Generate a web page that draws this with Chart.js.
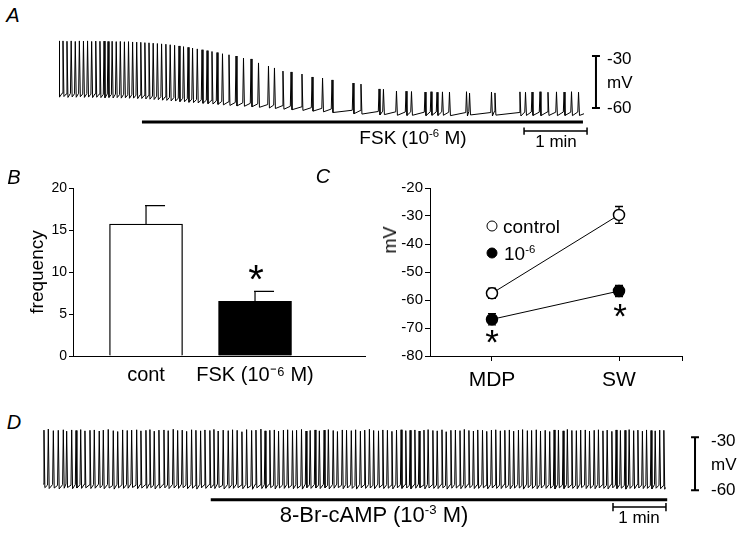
<!DOCTYPE html>
<html>
<head>
<meta charset="utf-8">
<script src="https://cdn.jsdelivr.net/npm/chart.js@4.4.1/dist/chart.umd.min.js"></script>
<style>
  body { margin: 0; width: 743px; height: 535px; background: #fff; position: relative; overflow: hidden;
         font-family: "Liberation Sans", Arial, Helvetica, sans-serif; color: #000; }
  canvas { position: absolute; }
  .t { position: absolute; white-space: nowrap; line-height: 1; }
  .c { transform: translate(-50%, -50%); }
  .l { transform: translate(0, -50%); }
  .lab { font-style: italic; font-size: 20px; }
  sup { font-size: 0.6em; vertical-align: 0.6em; line-height: 0; }
  .dot { position: absolute; width: 9px; height: 9px; border: 1.5px solid #000; border-radius: 50%;
         transform: translate(-50%, -50%); }
</style>
</head>
<body>
<canvas id="traceA" width="567" height="121" style="left:59px;top:30px"></canvas>
<canvas id="barB" width="370" height="230" style="left:0;top:170px"></canvas>
<canvas id="lineC" width="373" height="230" style="left:370px;top:170px"></canvas>
<canvas id="traceD" width="671" height="113" style="left:43px;top:416px"></canvas>

<div class="t c lab" style="left:13px;top:15px">A</div>
<div class="t c lab" style="left:14px;top:177px">B</div>
<div class="t c lab" style="left:323px;top:176px">C</div>
<div class="t c lab" style="left:14px;top:422px">D</div>

<div class="t l" style="left:607px;top:58px;font-size:17px">-30</div>
<div class="t l" style="left:607px;top:82px;font-size:17px">mV</div>
<div class="t l" style="left:607px;top:107px;font-size:17px">-60</div>
<div class="t c" style="left:413px;top:137px;font-size:19px">FSK (10<sup>-6</sup> M)</div>
<div class="t c" style="left:556px;top:141px;font-size:17px">1 min</div>

<div class="t c" style="left:256px;top:279px;font-size:40px">*</div>

<div class="dot" style="left:492px;top:226px;background:#fff"></div>
<div class="t l" style="left:503px;top:226px;font-size:19px">control</div>
<div class="dot" style="left:492px;top:253px;background:#000"></div>
<div class="t l" style="left:504px;top:253px;font-size:19px">10<sup>-6</sup></div>
<div class="t c" style="left:492px;top:341px;font-size:35px">*</div>
<div class="t c" style="left:620px;top:315px;font-size:35px">*</div>
<div class="t" style="left:390px;top:240px;font-size:18px;transform:translate(-50%,-50%) rotate(-90deg)">mV</div>

<div class="t l" style="left:711px;top:440px;font-size:17px">-30</div>
<div class="t l" style="left:711px;top:464px;font-size:17px">mV</div>
<div class="t l" style="left:711px;top:489px;font-size:17px">-60</div>
<div class="t c" style="left:374px;top:515px;font-size:22px">8-Br-cAMP (10<sup>-3</sup> M)</div>
<div class="t c" style="left:639px;top:517px;font-size:17px">1 min</div>

<script>
// ---- panel A: spikes under forskolin (time in s, potentials in mV) ----
const aSpikeT = [
  0, 3.8, 7.6, 11.6, 15.5, 19.4, 23.3, 27.2, 31.1, 35.0,
  39.0, 42.9, 46.7, 50.6, 54.5, 58.4, 62.3, 66.2, 70.1, 74.0,
  77.9, 81.8, 85.7, 89.7, 93.7, 97.7, 101.8, 105.9, 110.1, 114.3,
  118.6, 122.9, 127.2, 131.7, 136.2, 141.0, 145.7, 150.5, 155.7, 161.9,
  168.6, 175.7, 182.9, 190.0, 199.5, 205.2, 213.3, 221.0, 231.4, 241.0,
  251.0, 260.0, 280.0, 287.6, 304.8, 309.0, 321.4, 330.5, 335.7, 348.6,
  354.3, 360.0, 365.2, 371.9, 388.1, 391.0, 411.9, 415.2, 439.0, 444.3,
  450.5, 458.1, 465.7, 473.8, 481.0, 488.1, 494.8
];
const aPeak = [
  -21.3, -21.3, -21.5, -21.3, -21.6, -21.3, -21.4, -21.3, -21.6, -21.4,
  -21.5, -21.4, -21.6, -21.5, -21.7, -21.6, -21.8, -21.7, -21.9, -22.0,
  -22.1, -22.3, -22.4, -22.6, -22.8, -23.0, -23.2, -23.5, -23.8, -24.2,
  -24.6, -25.0, -25.4, -25.9, -26.4, -26.9, -27.4, -28.0, -28.7, -29.3,
  -30.0, -31.2, -31.7, -34.0, -35.8, -36.9, -38.7, -39.2, -40.4, -42.1,
  -42.7, -43.8, -45.6, -46.2, -49.0, -49.2, -50.2, -50.3, -50.5, -50.8,
  -50.6, -50.9, -50.7, -50.8, -50.6, -51.4, -50.8, -51.3, -50.7, -50.9,
  -50.8, -50.6, -50.9, -50.7, -50.8, -50.6, -50.9
];
const aTrough = [
  -53.7, -53.4, -53.9, -53.6, -53.8, -53.5, -53.9, -53.7, -54.0, -53.8,
  -54.0, -54.1, -53.9, -54.2, -54.0, -54.3, -54.1, -54.4, -54.3, -54.6,
  -54.5, -54.8, -54.9, -55.1, -55.2, -55.5, -55.6, -55.9, -56.0, -56.3,
  -56.4, -56.7, -56.9, -57.1, -57.3, -57.5, -57.7, -57.9, -58.2, -58.5,
  -58.8, -59.0, -59.3, -59.6, -60.0, -60.3, -60.7, -61.0, -61.4, -61.8,
  -62.2, -62.6, -63.3, -63.5, -64.0, -63.8, -64.2, -64.3, -64.2, -64.4,
  -64.2, -64.3, -64.2, -64.4, -64.6, -64.0, -64.6, -64.1, -64.6, -64.3,
  -64.3, -64.4, -64.3, -64.4, -64.3, -64.4, -64.3
];
const aRecordEnd = 500;
const aDrugSpan = [79, 499];

// ---- panel B: firing frequency ----
const bGroups = ['cont', 'FSK (10\u207B\u2076 M)'];
const bMeans = [15.7, 6.5];
const bSem = [2.2, 1.2];

// ---- panel C: MDP and SW potentials ----
const cGroups = ['MDP', 'SW'];
const cControl = [-57.6, -29.6];
const cControlSem = [1.8, 3.0];
const cFsk = [-66.9, -56.8];
const cFskSem = [2.0, 2.0];

// ---- panel D: spikes under 8-Br-cAMP ----
const dSpikeT = [
  1.1, 6.0, 11.7, 17.3, 23.0, 26.8, 32.5, 37.4, 42.7, 47.5,
  53.2, 58.1, 63.7, 68.3, 73.9, 79.6, 84.6, 90.2, 95.4, 100.4,
  106.1, 110.9, 116.6, 121.1, 126.0, 131.3, 137.0, 141.8, 147.5, 152.5,
  157.7, 162.7, 168.3, 173.2, 178.5, 183.4, 189.0, 193.6, 198.4, 204.1,
  209.8, 214.7, 219.9, 225.3, 230.6, 236.3, 241.2, 246.8, 251.5, 256.9,
  262.0, 266.8, 272.3, 277.1, 282.6, 287.2, 292.8, 297.9, 302.6, 308.1,
  313.0, 318.4, 323.2, 328.7, 333.5, 339.0, 343.8, 349.2, 354.1, 359.5,
  364.4, 369.7, 374.5, 380.0, 384.9, 390.1, 395.2, 400.4, 405.6, 410.9,
  415.8, 421.2, 426.0, 431.5, 436.2, 441.6, 446.5, 451.9, 456.7, 462.0,
  467.1, 472.3, 477.2, 482.4, 487.5, 492.4, 497.8, 502.6, 507.9, 512.8,
  518.0, 523.1, 528.2, 533.1, 538.5, 543.2, 548.6, 553.4, 558.7, 563.5,
  568.8, 573.9, 578.9, 583.8, 589.1, 593.9, 599.0, 604.1, 609.0, 614.2,
  619.0, 624.3, 629.1, 634.2, 639.0, 644.3, 649.1, 654.0, 659.2, 663.9,
  669.0, 673.8, 678.9, 683.6, 688.7, 693.4, 698.5, 703.2
];
const dPeak = [
  -26.0, -25.4, -26.3, -26.1, -25.8, -26.6, -25.9, -26.2, -25.7, -26.4,
  -26.1, -25.9, -26.5, -26.0, -25.6, -26.3, -26.8, -25.9, -26.2, -26.0,
  -25.8, -26.4, -26.1, -25.7, -26.6, -26.0, -25.9, -26.3, -25.5, -26.2,
  -26.0, -26.7, -25.8, -26.1, -26.4, -25.9, -26.2, -25.6, -26.5, -26.0,
  -26.3, -25.8, -26.1, -26.9, -25.7, -26.2, -26.0, -25.4, -26.4, -26.1,
  -25.9, -26.6, -26.0, -25.8, -26.3, -26.1, -25.6, -26.5, -26.2, -25.9,
  -26.4, -26.0, -25.7, -26.2, -26.8, -25.9, -26.1, -26.3, -25.8, -26.6,
  -26.0, -25.5, -26.2, -26.4, -25.9, -26.1, -26.7, -26.0, -25.8, -26.3,
  -26.1, -25.9, -26.5, -26.0, -25.7, -26.2, -26.4, -25.8, -26.9, -26.1,
  -26.0, -26.3, -25.6, -26.2, -26.5, -25.9, -26.1, -26.7, -26.0, -25.8,
  -26.4, -26.1, -25.9, -26.6, -26.0, -25.7, -26.3, -26.2, -25.8, -26.5,
  -26.1, -26.8, -25.9, -26.0, -26.4, -25.6, -26.2, -26.3, -26.0, -25.9,
  -26.5, -26.1, -25.8, -26.4, -26.0, -26.7, -25.9, -26.2, -26.1, -25.7,
  -26.3, -26.0, -26.6, -25.9, -26.2, -26.4, -26.0, -26.1
];
const dTrough = [
  -58.6, -59.1, -58.8, -59.3, -58.9, -58.5, -59.2, -58.8, -59.0, -58.7,
  -59.1, -58.9, -58.6, -59.2, -58.8, -59.4, -58.7, -59.0, -58.9, -58.5,
  -59.2, -58.8, -59.0, -58.6, -59.3, -58.9, -58.7, -59.1, -58.8, -59.0,
  -58.6, -59.2, -58.9, -59.4, -58.7, -59.0, -58.8, -59.1, -58.5, -59.3,
  -58.9, -59.0, -58.6, -59.2, -58.8, -59.5, -58.7, -59.1, -58.9, -58.6,
  -59.3, -58.8, -59.0, -58.7, -59.2, -58.9, -59.4, -58.6, -59.0, -58.8,
  -59.1, -58.7, -59.3, -58.9, -58.6, -59.2, -58.8, -59.0, -59.4, -58.7,
  -59.0, -58.8, -59.2, -58.6, -59.1, -58.9, -59.3, -58.7, -59.0, -58.8,
  -59.2, -58.9, -58.6, -59.3, -58.8, -59.0, -59.1, -58.7, -59.4, -58.9,
  -58.8, -59.2, -58.9, -58.6, -59.1, -59.0, -58.7, -59.3, -58.8, -59.0,
  -59.1, -58.7, -59.2, -58.9, -58.8, -59.4, -58.6, -59.0, -59.2, -58.8,
  -59.0, -58.9, -59.3, -58.7, -59.1, -58.8, -59.0, -59.2, -58.6, -59.1,
  -58.9, -59.2, -58.8, -59.0, -59.3, -58.7, -59.1, -58.9, -59.4, -59.0,
  -59.2, -58.8, -59.1, -59.0, -59.3, -58.9, -59.2, -59.5
];
const dRecordEnd = 705;
const dDrugSpan = [190, 707];

Chart.defaults.font.family = '"Liberation Sans", Arial, Helvetica, sans-serif';
Chart.defaults.color = '#000';

// spike waveform built from the spike table: threshold -> peak -> AHP, linear ramp between
function spikeTrace(times, peaks, troughs, rise, fall, endT) {
  const pts = [];
  times.forEach((t, i) => {
    pts.push({x: t - rise, y: troughs[i] + 2});
    pts.push({x: t, y: peaks[i]});
    pts.push({x: t + fall, y: troughs[i]});
  });
  pts.push({x: endT, y: troughs[troughs.length - 1] + 1});
  return pts;
}

function seg(points, width) {
  return {data: points, borderColor: '#000', borderWidth: width, pointRadius: 0,
          tension: 0, clip: false, spanGaps: false};
}

function scaleBar(x, top, bottom, cap) {
  return [{x: x - cap, y: top}, {x: x + cap, y: top}, {x: x, y: top}, {x: x, y: bottom},
          {x: x - cap, y: bottom}, {x: x + cap, y: bottom}];
}

function timeBar(x0, x1, y, cap) {
  return [{x: x0, y: y + cap}, {x: x0, y: y - cap}, {x: x0, y: y}, {x: x1, y: y},
          {x: x1, y: y + cap}, {x: x1, y: y - cap}];
}

function traceChart(id, trace, extras, xMax, yMin, yMax) {
  return new Chart(document.getElementById(id), {
    type: 'line',
    data: {datasets: [seg(trace, 1), ...extras]},
    options: {
      responsive: false,
      animation: false,
      devicePixelRatio: 1,
      layout: {padding: 0},
      plugins: {legend: {display: false}, tooltip: {enabled: false}},
      scales: {
        x: {type: 'linear', min: 0, max: xMax, display: false},
        y: {min: yMin, max: yMax, display: false}
      }
    }
  });
}

// panel A
traceChart('traceA',
  spikeTrace(aSpikeT, aPeak, aTrough, 0.7, 0.9, aRecordEnd),
  [
    seg([{x: aDrugSpan[0], y: -68.1}, {x: aDrugSpan[1], y: -68.1}], 3),
    seg(timeBar(442.9, 502.9, -73.3, 2.1), 1.5),
    seg(scaleBar(511.4, -30, -60, 3.8), 2)
  ],
  540, -84.8, -15);

// panel D
traceChart('traceD',
  spikeTrace(dSpikeT, dPeak, dTrough, 0.8, 1.0, dRecordEnd),
  [
    seg([{x: dDrugSpan[0], y: -65.4}, {x: dDrugSpan[1], y: -65.4}], 3),
    seg(timeBar(645.6, 705.6, -69.6, 2.3), 1.5),
    seg(scaleBar(738.5, -30, -60, 4.5), 2)
  ],
  760, -82, -18);

// panel B
const barErr = {
  id: 'barErr',
  afterDatasetsDraw(chart) {
    const {ctx, scales: {x, y}} = chart;
    ctx.save();
    ctx.strokeStyle = '#000';
    ctx.lineWidth = 1.2;
    bMeans.forEach((m, i) => {
      const px = x.getPixelForValue(i + 1);
      const y0 = y.getPixelForValue(m);
      const y1 = y.getPixelForValue(m + bSem[i]);
      ctx.beginPath();
      ctx.moveTo(px, y0);
      ctx.lineTo(px, y1);
      ctx.moveTo(px - 1, y1);
      ctx.lineTo(px + 19, y1);
      ctx.stroke();
    });
    ctx.restore();
  }
};

new Chart(document.getElementById('barB'), {
  type: 'bar',
  data: {
    datasets: [{
      data: bMeans.map((m, i) => ({x: i + 1, y: m})),
      backgroundColor: ['#fff', '#000'],
      borderColor: '#000',
      borderWidth: 1.3,
      barThickness: 73
    }]
  },
  options: {
    responsive: false,
    animation: false,
    devicePixelRatio: 1,
    layout: {padding: {top: 18, right: 5, left: 0, bottom: 0}},
    plugins: {legend: {display: false}, tooltip: {enabled: false}},
    scales: {
      x: {
        type: 'linear', min: 0.33, max: 3.009, offset: false,
        afterBuildTicks: s => { s.ticks = bGroups.map((g, i) => ({value: i + 1})); },
        afterFit: s => { s.height = 44; },
        grid: {display: false, drawTicks: false, offset: false},
        border: {color: '#000', width: 1},
        ticks: {callback: (v, i) => bGroups[i], font: {size: 20}, padding: 7, autoSkip: false, maxRotation: 0}
      },
      y: {
        min: 0, max: 20,
        afterFit: s => { s.width = 73; },
        ticks: {stepSize: 5, font: {size: 14}, padding: 2},
        grid: {drawOnChartArea: false, tickLength: 4, color: '#000'},
        border: {color: '#000', width: 1},
        title: {display: true, text: 'frequency', font: {size: 19}, padding: {top: 26, bottom: 0}}
      }
    }
  },
  plugins: [barErr]
});

// panel C
const lineErr = {
  id: 'lineErr',
  beforeDatasetsDraw(chart) {
    const {ctx, scales: {x, y}} = chart;
    ctx.save();
    ctx.strokeStyle = '#000';
    ctx.lineWidth = 1.3;
    [[cControl, cControlSem], [cFsk, cFskSem]].forEach(([vals, sems]) => {
      vals.forEach((v, i) => {
        const px = x.getPixelForValue(i + 1);
        const yt = y.getPixelForValue(v + sems[i]);
        const yb = y.getPixelForValue(v - sems[i]);
        ctx.beginPath();
        ctx.moveTo(px, yt); ctx.lineTo(px, yb);
        ctx.moveTo(px - 4, yt); ctx.lineTo(px + 4, yt);
        ctx.moveTo(px - 4, yb); ctx.lineTo(px + 4, yb);
        ctx.stroke();
      });
    });
    ctx.restore();
  }
};

const cXMax = 2.496;
new Chart(document.getElementById('lineC'), {
  type: 'line',
  data: {
    datasets: [
      {
        label: 'control',
        data: cControl.map((v, i) => ({x: i + 1, y: v})),
        borderColor: '#000', borderWidth: 1,
        pointRadius: 5.5, pointBorderWidth: 1.5,
        pointBackgroundColor: '#fff', pointBorderColor: '#000'
      },
      {
        label: '10-6',
        data: cFsk.map((v, i) => ({x: i + 1, y: v})),
        borderColor: '#000', borderWidth: 1,
        pointRadius: 5.5, pointBorderWidth: 1.5,
        pointBackgroundColor: '#000', pointBorderColor: '#000'
      }
    ]
  },
  options: {
    responsive: false,
    animation: false,
    devicePixelRatio: 1,
    layout: {padding: {top: 18, right: 61, left: 0, bottom: 0}},
    plugins: {legend: {display: false}, tooltip: {enabled: false}},
    scales: {
      x: {
        type: 'linear', min: 0.512, max: cXMax,
        afterBuildTicks: s => { s.ticks = [{value: 1}, {value: 2}, {value: cXMax}]; },
        afterFit: s => { s.height = 44; },
        grid: {drawOnChartArea: false, tickLength: 5, color: '#000'},
        border: {color: '#000', width: 1},
        ticks: {callback: (v, i) => cGroups[i] || '', font: {size: 21}, padding: 7, autoSkip: false, maxRotation: 0}
      },
      y: {
        min: -80, max: -20,
        afterFit: s => { s.width = 60; },
        ticks: {stepSize: 10, font: {size: 15}, padding: 2},
        grid: {drawOnChartArea: false, tickLength: 5, color: '#000'},
        border: {color: '#000', width: 1}
      }
    }
  },
  plugins: [lineErr]
});
</script>
</body>
</html>
